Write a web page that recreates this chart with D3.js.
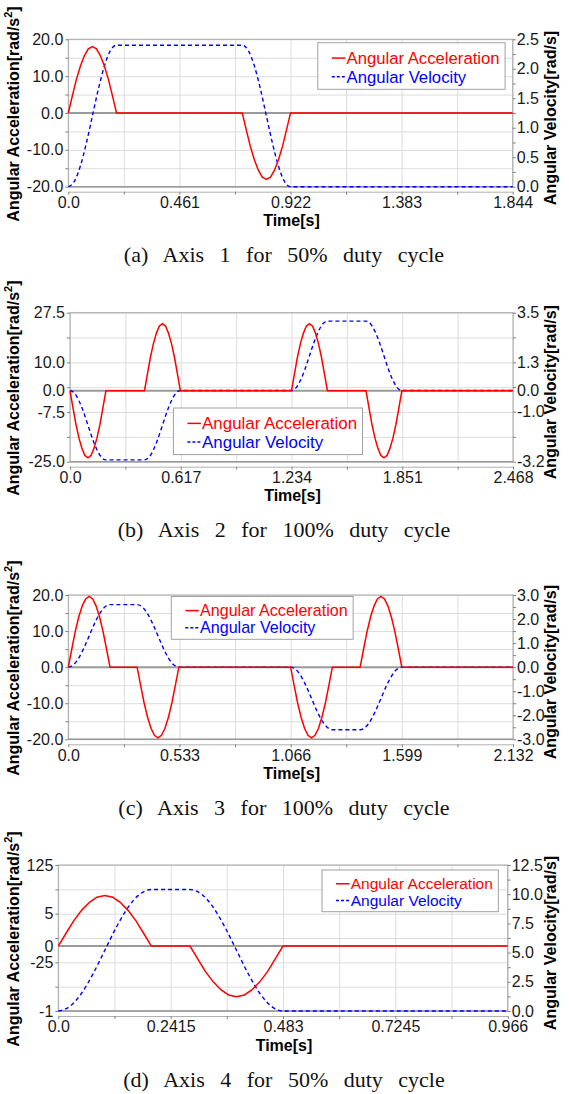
<!DOCTYPE html>
<html>
<head>
<meta charset="utf-8">
<script src="https://cdn.jsdelivr.net/npm/d3@7"></script>
<style>
  body { margin: 0; background: #fff; }
  text { font-family: "Liberation Sans", Arial, sans-serif; }
  text.caption { font-family: "Liberation Serif", "Times New Roman", serif; }
</style>
</head>
<body>
<svg id="chart" width="569" height="1094"></svg>
<script>
// ---- panel (a) : Axis 1, 50% duty cycle ----
const accTimeA = [0,0.017,0.033,0.05,0.067,0.083,0.1,0.117,0.133,0.15,0.167,0.183,0.2,
  0.722,0.739,0.755,0.772,0.789,0.805,0.822,0.839,0.855,0.872,0.889,0.905,0.922,1.844];
const accA = [0,4.7,9.0,12.7,15.6,17.4,18,17.4,15.6,12.7,9.0,4.7,0,
  0,-4.7,-9.0,-12.7,-15.6,-17.4,-18,-17.4,-15.6,-12.7,-9.0,-4.7,0,0];
const velTimeA = [0,0.025,0.05,0.075,0.1,0.125,0.15,0.175,0.2,
  0.722,0.747,0.772,0.797,0.822,0.847,0.872,0.897,0.922,1.844];
const velA = [0,0.09,0.35,0.74,1.2,1.66,2.05,2.31,2.4,
  2.4,2.31,2.05,1.66,1.2,0.74,0.35,0.09,0,0];
const xTicksA = [0,0.461,0.922,1.383,1.844];
const xLabelsA = ["0.0","0.461","0.922","1.383","1.844"];
const xGridA = [0,0.2305,0.461,0.6915,0.922,1.1525,1.383,1.6135,1.844];
const leftTicksA = [-20,-10,0,10,20];
const leftLabelsA = ["-20.0","-10.0","0.0","10.0","20.0"];
const leftGridA = [-20,-15,-10,-5,0,5,10,15,20];
const rightTicksA = [0,0.5,1,1.5,2,2.5];
const rightLabelsA = ["0.0","0.5","1.0","1.5","2.0","2.5"];
const rightMinorA = [0,0.25,0.5,0.75,1,1.25,1.5,1.75,2,2.25,2.5];

// ---- panel (b) : Axis 2, 100% duty cycle ----
const accTimeB = [0,0.017,0.033,0.05,0.067,0.083,0.1,0.117,0.133,0.15,0.167,0.183,0.2,
  0.415,0.432,0.448,0.465,0.482,0.498,0.515,0.532,0.548,0.565,0.582,0.598,0.615,
  1.234,1.251,1.267,1.284,1.301,1.317,1.334,1.351,1.367,1.384,1.401,1.417,1.434,
  1.649,1.666,1.682,1.699,1.716,1.732,1.749,1.766,1.782,1.799,1.816,1.832,1.849,2.468];
const accB = [0,-6.1,-11.8,-16.7,-20.4,-22.8,-23.6,-22.8,-20.4,-16.7,-11.8,-6.1,0,
  0,6.1,11.8,16.7,20.4,22.8,23.6,22.8,20.4,16.7,11.8,6.1,0,
  0,6.1,11.8,16.7,20.4,22.8,23.6,22.8,20.4,16.7,11.8,6.1,0,
  0,-6.1,-11.8,-16.7,-20.4,-22.8,-23.6,-22.8,-20.4,-16.7,-11.8,-6.1,0,0];
const velTimeB = [0,0.025,0.05,0.075,0.1,0.125,0.15,0.175,0.2,
  0.415,0.44,0.465,0.49,0.515,0.54,0.565,0.59,0.615,
  1.234,1.259,1.284,1.309,1.334,1.359,1.384,1.409,1.434,
  1.649,1.674,1.699,1.724,1.749,1.774,1.799,1.824,1.849,2.468];
const velB = [0,-0.12,-0.46,-0.96,-1.56,-2.16,-2.66,-3.0,-3.12,
  -3.12,-3.0,-2.66,-2.16,-1.56,-0.96,-0.46,-0.12,0,
  0,0.12,0.46,0.96,1.56,2.16,2.66,3.0,3.12,
  3.12,3.0,2.66,2.16,1.56,0.96,0.46,0.12,0,0];
const xTicksB = [0,0.617,1.234,1.851,2.468];
const xLabelsB = ["0.0","0.617","1.234","1.851","2.468"];
const xGridB = [0,0.3085,0.617,0.9255,1.234,1.5425,1.851,2.1595,2.468];
const leftTicksB = [-25,-7.5,0,10,27.5];
const leftLabelsB = ["-25.0","-7.5","0.0","10.0","27.5"];
const leftGridB = [-25,-16.25,-7.5,1.25,10,18.75,27.5];
const rightTicksB = [-3.2,-0.95,0,1.27,3.5];
const rightLabelsB = ["-3.2","-1.0","0.0","1.3","3.5"];
const rightMinorB = [-3.2,-2.08,-0.95,0.16,1.27,2.39,3.5];

// ---- panel (c) : Axis 3, 100% duty cycle ----
const accTimeC = [0,0.017,0.033,0.05,0.067,0.083,0.1,0.117,0.133,0.15,0.167,0.183,0.2,
  0.33,0.347,0.363,0.38,0.397,0.413,0.43,0.447,0.463,0.48,0.497,0.513,0.53,
  1.066,1.083,1.099,1.116,1.133,1.149,1.166,1.183,1.199,1.216,1.233,1.249,1.266,
  1.399,1.416,1.432,1.449,1.466,1.482,1.499,1.516,1.532,1.549,1.566,1.582,1.599,2.132];
const accC = [0,5.1,9.8,13.9,17.0,18.9,19.6,18.9,17.0,13.9,9.8,5.1,0,
  0,-5.1,-9.8,-13.9,-17.0,-18.9,-19.6,-18.9,-17.0,-13.9,-9.8,-5.1,0,
  0,-5.1,-9.8,-13.9,-17.0,-18.9,-19.6,-18.9,-17.0,-13.9,-9.8,-5.1,0,
  0,5.1,9.8,13.9,17.0,18.9,19.6,18.9,17.0,13.9,9.8,5.1,0,0];
const velTimeC = [0,0.025,0.05,0.075,0.1,0.125,0.15,0.175,0.2,
  0.33,0.355,0.38,0.405,0.43,0.455,0.48,0.505,0.53,
  1.066,1.091,1.116,1.141,1.166,1.191,1.216,1.241,1.266,
  1.399,1.424,1.449,1.474,1.499,1.524,1.549,1.574,1.599,2.132];
const velC = [0,0.10,0.38,0.80,1.3,1.80,2.22,2.50,2.6,
  2.6,2.50,2.22,1.80,1.3,0.80,0.38,0.10,0,
  0,-0.10,-0.38,-0.80,-1.3,-1.80,-2.22,-2.50,-2.6,
  -2.6,-2.50,-2.22,-1.80,-1.3,-0.80,-0.38,-0.10,0,0];
const xTicksC = [0,0.533,1.066,1.599,2.132];
const xLabelsC = ["0.0","0.533","1.066","1.599","2.132"];
const xGridC = [0,0.2665,0.533,0.7995,1.066,1.3325,1.599,1.8655,2.132];
const leftTicksC = [-20,-10,0,10,20];
const leftLabelsC = ["-20.0","-10.0","0.0","10.0","20.0"];
const leftGridC = [-20,-15,-10,-5,0,5,10,15,20];
const rightTicksC = [-3,-2,-1,0,1,2,3];
const rightLabelsC = ["-3.0","-2.0","-1.0","0.0","1.0","2.0","3.0"];
const rightMinorC = [-3,-2.5,-2,-1.5,-1,-0.5,0,0.5,1,1.5,2,2.5,3];

// ---- panel (d) : Axis 4, 50% duty cycle ----
const accTimeD = [0,0.017,0.033,0.05,0.067,0.083,0.1,0.117,0.133,0.15,0.167,0.183,0.2,
  0.283,0.3,0.316,0.333,0.35,0.366,0.383,0.4,0.416,0.433,0.45,0.466,0.483,0.966];
const accD = [0,20.2,39.0,55.1,67.5,75.3,78,75.3,67.5,55.1,39.0,20.2,0,
  0,-20.2,-39.0,-55.1,-67.5,-75.3,-78,-75.3,-67.5,-55.1,-39.0,-20.2,0,0];
const velTimeD = [0,0.025,0.05,0.075,0.1,0.125,0.15,0.175,0.2,
  0.283,0.308,0.333,0.358,0.383,0.408,0.433,0.458,0.483,0.966];
const velD = [0,0.40,1.52,3.21,5.2,7.19,8.88,10.0,10.4,
  10.4,10.0,8.88,7.19,5.2,3.21,1.52,0.40,0,0];
const xTicksD = [0,0.2415,0.483,0.7245,0.966];
const xLabelsD = ["0.0","0.2415","0.483","0.7245","0.966"];
const xGridD = [0,0.12075,0.2415,0.36225,0.483,0.60375,0.7245,0.84525,0.966];
const leftTicksD = [-100,-25,0,50,125];
const leftLabelsD = ["-1","-25","0","5","125"];
const leftGridD = [-100,-62.5,-25,12.5,50,87.5,125];
const rightTicksD = [0,2.5,5,7.5,10,12.5];
const rightLabelsD = ["0.0","2.5","5.0","7.5","10.0","12.5"];
const rightMinorD = [0,1.25,2.5,3.75,5,6.25,7.5,8.75,10,11.25,12.5];

const seriesNames = ["Angular Acceleration", "Angular Velocity"];
const captions = ["(a) Axis 1 for 50% duty cycle", "(b) Axis 2 for 100% duty cycle",
  "(c) Axis 3 for 100% duty cycle", "(d) Axis 4 for 50% duty cycle"];

const svg = d3.select("#chart");
const RED = "#ff0000", BLUE = "#0000ff";

const panels = [
  { l: 68.3, r: 512.7, t: 39.3, b: 186.7, xDomain: [0, 1.844], leftDomain: [-20, 20], rightDomain: [0, 2.5],
    accT: accTimeA, acc: accA, velT: velTimeA, vel: velA,
    xTicks: xTicksA, xLabels: xLabelsA, xGrid: xGridA,
    lTicks: leftTicksA, lLabels: leftLabelsA, lGrid: leftGridA,
    rTicks: rightTicksA, rLabels: rightLabelsA, rMinor: rightMinorA,
    leg: { x: 317.8, y: 42.7, h: 46.6, fs: 16.7 }, caption: captions[0] },
  { l: 70, r: 513, t: 312.7, b: 461.7, xDomain: [0, 2.468], leftDomain: [-25, 27.5], rightDomain: [-3.2, 3.5],
    accT: accTimeB, acc: accB, velT: velTimeB, vel: velB,
    xTicks: xTicksB, xLabels: xLabelsB, xGrid: xGridB,
    lTicks: leftTicksB, lLabels: leftLabelsB, lGrid: leftGridB,
    rTicks: rightTicksB, rLabels: rightLabelsB, rMinor: rightMinorB,
    leg: { x: 173.4, y: 408, h: 46.6, fs: 16.9 }, caption: captions[1] },
  { l: 68.3, r: 513, t: 595, b: 739.3, xDomain: [0, 2.132], leftDomain: [-20, 20], rightDomain: [-3, 3],
    accT: accTimeC, acc: accC, velT: velTimeC, vel: velC,
    xTicks: xTicksC, xLabels: xLabelsC, xGrid: xGridC,
    lTicks: leftTicksC, lLabels: leftLabelsC, lGrid: leftGridC,
    rTicks: rightTicksC, rLabels: rightLabelsC, rMinor: rightMinorC,
    leg: { x: 171.3, y: 596.5, h: 42.8, fs: 16.1 }, caption: captions[2] },
  { l: 58.3, r: 507.7, t: 865, b: 1011, xDomain: [0, 0.966], leftDomain: [-100, 125], rightDomain: [0, 12.5],
    accT: accTimeD, acc: accD, velT: velTimeD, vel: velD,
    xTicks: xTicksD, xLabels: xLabelsD, xGrid: xGridD,
    lTicks: leftTicksD, lLabels: leftLabelsD, lGrid: leftGridD,
    rTicks: rightTicksD, rLabels: rightLabelsD, rMinor: rightMinorD,
    leg: { x: 322, y: 870, h: 41.7, fs: 15.5 }, caption: captions[3] }
];

function styleAxis(sel, fontSize) {
  sel.selectAll("line").attr("stroke", "#808080");
  sel.selectAll("text").attr("font-size", fontSize).attr("fill", "#1a1a1a");
}

function drawPanel(p) {
  const g = svg.append("g");
  const w = p.r - p.l, h = p.b - p.t;
  const x = d3.scaleLinear().domain(p.xDomain).range([p.l, p.r]);
  const yL = d3.scaleLinear().domain(p.leftDomain).range([p.b, p.t]);
  const yR = d3.scaleLinear().domain(p.rightDomain).range([p.b, p.t]);

  // grid
  const gx = g.append("g").attr("transform", `translate(0,${p.b})`)
    .call(d3.axisBottom(x).tickValues(p.xGrid).tickSize(-h).tickFormat(""));
  gx.select(".domain").remove();
  gx.selectAll("line").attr("stroke", "#dcdcdc");
  const gy = g.append("g").attr("transform", `translate(${p.l},0)`)
    .call(d3.axisLeft(yL).tickValues(p.lGrid).tickSize(-w).tickFormat(""));
  gy.select(".domain").remove();
  gy.selectAll("line").attr("stroke", "#dcdcdc");

  // zero line
  g.append("line").attr("x1", p.l).attr("x2", p.r).attr("y1", yL(0)).attr("y2", yL(0))
    .attr("stroke", "#9a9a9a").attr("stroke-width", 2);

  // plot border
  g.append("rect").attr("x", p.l).attr("y", p.t).attr("width", w).attr("height", h)
    .attr("fill", "none").attr("stroke", "#a8a8a8").attr("stroke-width", 1);
  g.append("line").attr("x1", p.l).attr("x2", p.r).attr("y1", p.b).attr("y2", p.b)
    .attr("stroke", "#9a9a9a").attr("stroke-width", 1.6);

  // left axis: small ticks + labels
  const lt = g.append("g").attr("transform", `translate(${p.l},0)`)
    .call(d3.axisLeft(yL).tickValues(p.lGrid).tickSize(3).tickSizeOuter(0).tickFormat(""));
  lt.select(".domain").remove();
  styleAxis(lt, 16);
  const ll = g.append("g").attr("transform", `translate(${p.l},0)`)
    .call(d3.axisLeft(yL).tickValues(p.lTicks).tickSize(0).tickPadding(5)
      .tickFormat((d, i) => p.lLabels[i]));
  ll.select(".domain").remove();
  styleAxis(ll, 16);

  // right axis
  const rt = g.append("g").attr("transform", `translate(${p.r},0)`)
    .call(d3.axisRight(yR).tickValues(p.rMinor).tickSize(3).tickSizeOuter(0).tickFormat(""));
  rt.select(".domain").remove();
  styleAxis(rt, 16);
  const rl = g.append("g").attr("transform", `translate(${p.r},0)`)
    .call(d3.axisRight(yR).tickValues(p.rTicks).tickSize(0).tickPadding(4)
      .tickFormat((d, i) => p.rLabels[i]));
  rl.select(".domain").remove();
  styleAxis(rl, 16);

  // bottom axis, offset a little below the plot
  const bt = g.append("g").attr("transform", `translate(0,${p.b + 5})`)
    .call(d3.axisBottom(x).tickValues(p.xGrid).tickSize(3).tickSizeOuter(0).tickFormat(""));
  bt.select(".domain").attr("stroke", "#b0b0b0");
  styleAxis(bt, 16);
  const bl = g.append("g").attr("transform", `translate(0,${p.b + 5})`)
    .call(d3.axisBottom(x).tickValues(p.xTicks).tickSize(0).tickPadding(5)
      .tickFormat((d, i) => p.xLabels[i]));
  bl.select(".domain").remove();
  styleAxis(bl, 16);

  // axis titles
  const cy = (p.t + p.b) / 2;
  const lTitle = g.append("text").attr("transform", `translate(19,${cy + 1}) rotate(-90)`)
    .attr("text-anchor", "middle").attr("font-size", 16).attr("font-weight", "bold");
  lTitle.append("tspan").text("Angular Acceleration[rad/s");
  lTitle.append("tspan").attr("font-size", 11).attr("dy", -7).text("2");
  lTitle.append("tspan").attr("dy", 7).text("]");
  g.append("text").attr("transform", `translate(556,${cy + 5}) rotate(-90)`)
    .attr("text-anchor", "middle").attr("font-size", 16).attr("font-weight", "bold")
    .text("Angular Velocity[rad/s]");
  g.append("text").attr("x", (p.l + p.r) / 2 + 1).attr("y", p.b + 34).attr("dy", "0.35em")
    .attr("text-anchor", "middle").attr("font-size", 16).attr("font-weight", "bold")
    .text("Time[s]");

  // curves
  const accLine = d3.line().x(d => x(d[0])).y(d => yL(d[1]));
  const velLine = d3.line().x(d => x(d[0])).y(d => yR(d[1])).curve(d3.curveMonotoneX);
  g.append("path").datum(d3.zip(p.velT, p.vel)).attr("d", velLine)
    .attr("fill", "none").attr("stroke", BLUE).attr("stroke-width", 1.4)
    .attr("stroke-dasharray", "4,3");
  g.append("path").datum(d3.zip(p.accT, p.acc)).attr("d", accLine)
    .attr("fill", "none").attr("stroke", RED).attr("stroke-width", 1.5);

  // legend
  const lg = g.append("g");
  const box = lg.append("rect").attr("x", p.leg.x).attr("y", p.leg.y).attr("height", p.leg.h)
    .attr("fill", "#fff").attr("stroke", "#a0a0a0").attr("stroke-width", 1);
  const rows = [p.leg.y + p.leg.h * 0.33, p.leg.y + p.leg.h * 0.73];
  let maxW = 0;
  seriesNames.forEach((name, i) => {
    const col = i === 0 ? RED : BLUE;
    lg.append("line").attr("x1", p.leg.x + 14).attr("x2", p.leg.x + 27.5)
      .attr("y1", rows[i]).attr("y2", rows[i]).attr("stroke", col)
      .attr("stroke-width", 1.5).attr("stroke-dasharray", i === 0 ? null : "3,2");
    const t = lg.append("text").attr("x", p.leg.x + 28.7).attr("y", rows[i]).attr("dy", "0.35em")
      .attr("font-size", p.leg.fs).attr("fill", col).text(name);
    maxW = Math.max(maxW, t.node().getComputedTextLength());
  });
  box.attr("width", 28.7 + maxW + 5.5);

  // caption
  g.append("text").attr("class", "caption")
    .attr("x", 284).attr("y", p.b + 68).attr("dy", "0.35em")
    .attr("text-anchor", "middle").attr("font-size", 22)
    .attr("word-spacing", 10).attr("fill", "#111")
    .text(p.caption);
}

panels.forEach(drawPanel);
</script>
</body>
</html>
